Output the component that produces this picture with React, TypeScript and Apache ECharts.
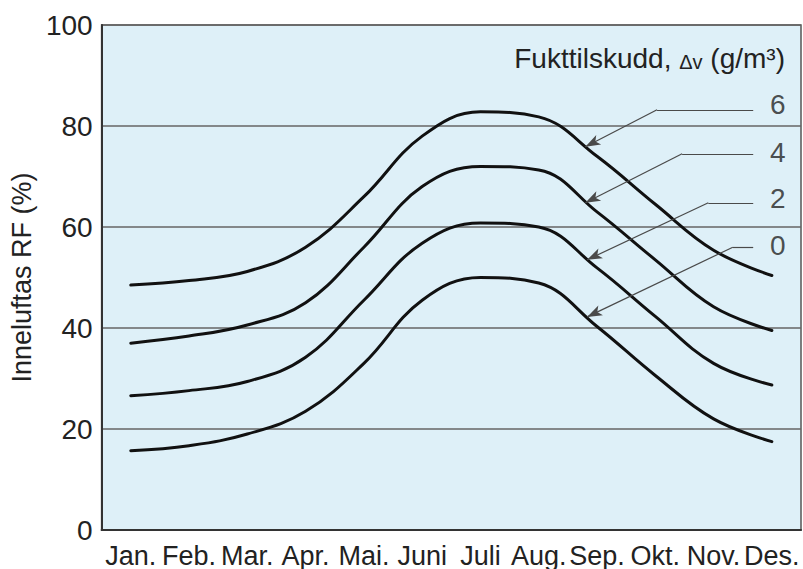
import React, { useEffect, useRef } from "react";
import * as echarts from "echarts";

const months = ["Jan.", "Feb.", "Mar.", "Apr.", "Mai.", "Juni", "Juli", "Aug.", "Sep.", "Okt.", "Nov.", "Des."];
const seriesNames = ["6", "4", "2", "0"];
const rf6 = [48.5, 49.4, 51.2, 56.0, 66.0, 78.0, 82.8, 81.8, 74.0, 64.5, 55.4, 50.4];
const rf4 = [37.0, 38.4, 40.6, 45.0, 56.0, 68.0, 72.0, 71.3, 63.0, 53.5, 44.2, 39.5];
const rf2 = [26.6, 27.6, 29.4, 34.2, 45.5, 56.8, 60.8, 60.0, 51.9, 42.3, 33.0, 28.7];
const rf0 = [15.7, 16.7, 19.0, 23.5, 33.0, 45.5, 50.0, 48.9, 40.3, 30.6, 22.0, 17.5];
const yTicks = [0, 20, 40, 60, 80, 100];

// leader annotations (in data space: x = month position, y = RF %)
const leaderEndX = 11.18;
const leaderBendX = [9.53, 9.96, 10.41, 10.83];
const leaderLevel = [83.2, 74.5, 64.8, 56.0];
const leaderTipX = [8.3, 8.3, 8.33, 8.33];
const leaderTipY = [75.9, 64.8, 53.5, 42.2];
const labelX = 11.6;
const labelY = [84.2, 74.7, 65.7, 56.4];

const FONT = "'Liberation Sans', Arial, Helvetica, sans-serif";

export default function App() {
  const ref = useRef<HTMLDivElement>(null);
  useEffect(() => {
    if (!ref.current) return;
    const chart = echarts.init(ref.current, undefined, { renderer: "svg" });
    const all = [rf6, rf4, rf2, rf0];
    const series: any[] = all.map((vals, k) => ({
      name: seriesNames[k],
      type: "line",
      xAxisIndex: 1,
      yAxisIndex: 0,
      data: vals.map((v, i) => [i + 0.5, v]),
      smooth: 0.4,
      symbol: "none",
      lineStyle: { color: "#111", width: 3, cap: "round" },
      silent: true,
      z: 3,
      markLine: {
        silent: true,
        symbol: ["none", "none"],
        symbolSize: [8, 15],
        label: { show: false },
        lineStyle: { color: "#4a4a4a", width: 1.2, type: "solid" },
        emphasis: { disabled: true },
        data: [
          [
            { coord: [leaderEndX, leaderLevel[k]] },
            { coord: [leaderBendX[k], leaderLevel[k]] },
          ],
          [
            { coord: [leaderBendX[k], leaderLevel[k]] },
            { coord: [leaderTipX[k], leaderTipY[k]], symbol: "arrow" },
          ],
        ],
      },
    }));
    series.push({
      type: "scatter",
      xAxisIndex: 1,
      yAxisIndex: 0,
      silent: true,
      symbol: "circle",
      symbolSize: 1,
      itemStyle: { color: "rgba(0,0,0,0)" },
      data: seriesNames.map((n, k) => ({ value: [labelX, labelY[k]], name: n })),
      label: {
        show: true,
        position: "inside",
        formatter: (p: any) => p.name,
        color: "#222",
        fontSize: 28,
        fontFamily: FONT,
      },
      z: 5,
    });
    chart.setOption({
      animation: false,
      backgroundColor: "#ffffff",
      grid: {
        left: 101,
        right: 2,
        top: 25,
        bottom: 39,
        show: true,
        backgroundColor: "#def0f8",
        borderColor: "#555",
        borderWidth: 1.5,
      },
      graphic: [
        {
          type: "text",
          right: 18,
          top: 44,
          style: {
            text: "{a|Fukttilskudd, }{s|\u0394v}{a| (g/m\u00b3)}",
            rich: {
              a: { fontSize: 28, fontFamily: FONT, fill: "#222", lineHeight: 34, verticalAlign: "bottom" },
              s: { fontSize: 20, fontFamily: FONT, fill: "#222", lineHeight: 26, verticalAlign: "bottom" },
            },
            fontSize: 28,
            fontFamily: FONT,
            fill: "#222",
          },
          z: 10,
        },
      ],
      xAxis: [
        {
          type: "category",
          data: months,
          boundaryGap: true,
          position: "bottom",
          axisLine: { show: true, lineStyle: { color: "#333", width: 2 } },
          axisTick: { show: false },
          axisLabel: { color: "#222", fontSize: 27, fontFamily: FONT, margin: 12, interval: 0 },
          splitLine: { show: false },
        },
        {
          type: "value",
          min: 0,
          max: 12,
          show: false,
          splitLine: { show: false },
        },
      ],
      yAxis: {
        type: "value",
        min: yTicks[0],
        max: yTicks[yTicks.length - 1],
        interval: 20,
        name: "Inneluftas RF (%)",
        nameLocation: "middle",
        nameGap: 51,
        nameTextStyle: { color: "#222", fontSize: 27, fontFamily: FONT },
        axisLine: { show: true, lineStyle: { color: "#333", width: 2 } },
        axisTick: { show: false },
        axisLabel: { color: "#222", fontSize: 28, fontFamily: FONT, margin: 9 },
        splitLine: { show: true, lineStyle: { color: "#666", width: 1.5 } },
      },
      series,
    });
    return () => chart.dispose();
  }, []);
  return (
    <div
      ref={ref}
      style={{ position: "fixed", left: 0, top: 0, width: 803, height: 569 }}
    />
  );
}
